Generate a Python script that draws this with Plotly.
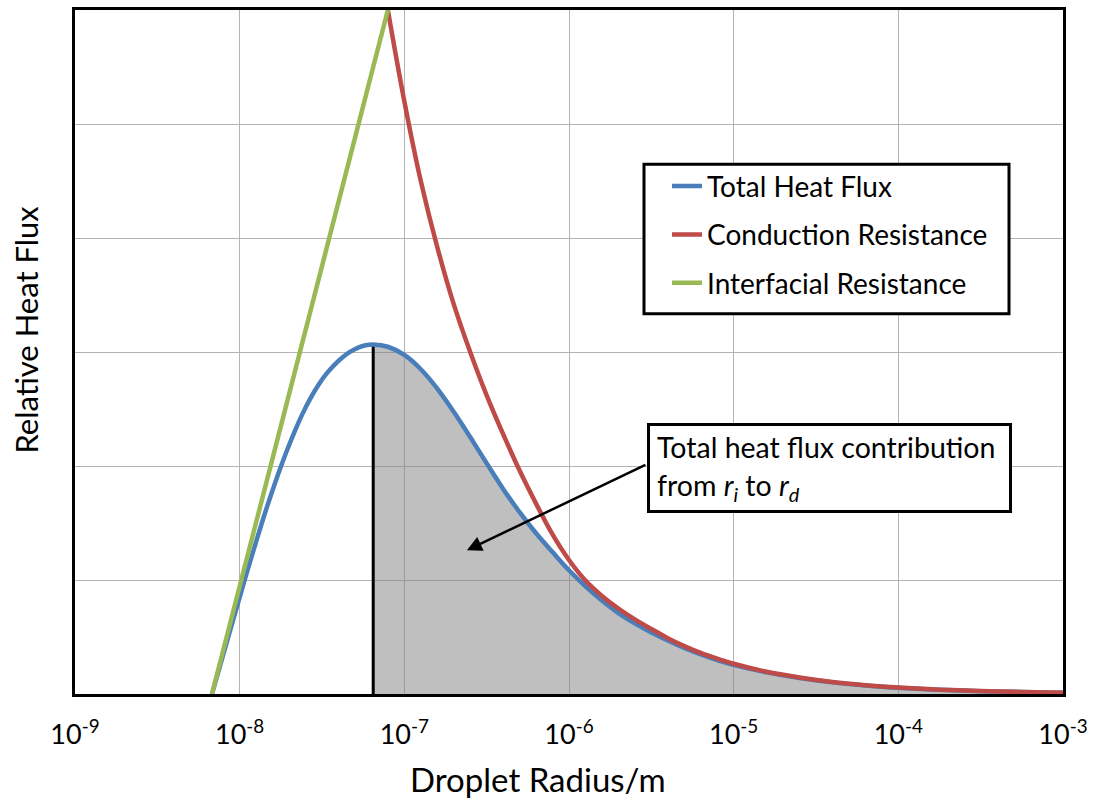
import plotly.graph_objects as go

# ---------------- data ----------------
# droplet radius (m) and relative heat flux (arbitrary units, 0..6 = axis frame)
interfacial_r = [6.79e-9, 1.023e-8, 1.542e-8, 2.323e-8, 3.491e-8, 5.26e-8, 7.943e-8]
interfacial_q = [0, 1, 2, 3, 4, 5, 6]

conduction_r = [7.943e-8, 1e-7, 1.259e-7, 1.585e-7, 1.995e-7, 2.512e-7, 3.162e-7, 3.981e-7,
                5.012e-7, 6.31e-7, 7.943e-7, 1e-6, 1.259e-6, 1.585e-6, 1.995e-6, 2.512e-6,
                3.162e-6, 3.981e-6, 5.012e-6, 6.31e-6, 7.943e-6, 1e-5, 1.585e-5, 2.512e-5,
                3.981e-5, 6.31e-5, 1e-4, 1.778e-4, 3.162e-4, 5.623e-4, 1e-3]
conduction_q = [6.0, 5.2, 4.5, 3.92, 3.42, 3.0, 2.62, 2.28, 1.96, 1.67, 1.40, 1.175,
                0.995, 0.86, 0.75, 0.655, 0.57, 0.49, 0.42, 0.36, 0.31, 0.265, 0.195,
                0.145, 0.105, 0.077, 0.056, 0.038, 0.026, 0.018, 0.012]

total_r = [6.79e-9, 7.59e-9, 8.51e-9, 9.55e-9, 1.076e-8, 1.202e-8, 1.38e-8, 1.549e-8,
           1.758e-8, 1.95e-8, 2.188e-8, 2.427e-8, 2.673e-8, 3.02e-8, 3.388e-8, 3.802e-8,
           4.236e-8, 4.677e-8, 5.248e-8, 5.821e-8, 6.471e-8, 7.943e-8, 1e-7, 1.259e-7,
           1.585e-7, 1.995e-7, 2.512e-7, 3.162e-7, 3.981e-7, 5.012e-7, 6.31e-7, 7.943e-7,
           1e-6, 1.259e-6, 1.585e-6, 1.995e-6, 2.512e-6, 3.162e-6, 3.981e-6, 5.012e-6,
           6.31e-6, 7.943e-6, 1e-5, 1.585e-5, 2.512e-5, 3.981e-5, 6.31e-5, 1e-4,
           1.778e-4, 3.162e-4, 5.623e-4, 1e-3]
total_q = [0, 0.244, 0.497, 0.748, 1.007, 1.241, 1.524, 1.746, 1.974, 2.147, 2.324,
           2.468, 2.587, 2.715, 2.814, 2.894, 2.956, 3.001, 3.039, 3.059, 3.066, 3.046,
           2.974, 2.849, 2.679, 2.476, 2.254, 2.024, 1.799, 1.595, 1.41, 1.245, 1.085,
           0.945, 0.82, 0.71, 0.62, 0.54, 0.47, 0.405, 0.348, 0.298, 0.255, 0.19, 0.14,
           0.102, 0.075, 0.054, 0.037, 0.025, 0.017, 0.011]

peak_r = 6.471e-8
peak_q = 3.066

tick_vals = [1e-9, 1e-8, 1e-7, 1e-6, 1e-5, 1e-4, 1e-3]
tick_text = ["10<sup>-9</sup>", "10<sup>-8</sup>", "10<sup>-7</sup>", "10<sup>-6</sup>",
             "10<sup>-5</sup>", "10<sup>-4</sup>", "10<sup>-3</sup>"]

# ---------------- figure ----------------
FONT = "Lato"
BLUE, RED, GREEN = "#4a7ebb", "#be4b48", "#98b954"

fill_r = [r for r in total_r if r >= peak_r]
fill_q = [q for r, q in zip(total_r, total_q) if r >= peak_r]

fig = go.Figure()
fig.add_trace(go.Scatter(x=fill_r, y=fill_q, mode="lines", line=dict(width=0, shape="spline"),
                         fill="tozeroy", fillcolor="rgba(128,128,128,0.5)",
                         showlegend=False, hoverinfo="skip"))
fig.add_trace(go.Scatter(x=[peak_r, peak_r], y=[0, peak_q], mode="lines",
                         line=dict(color="black", width=3), showlegend=False))
fig.add_trace(go.Scatter(x=total_r, y=total_q, mode="lines", name="Total Heat Flux",
                         legendgroup="a", line=dict(color=BLUE, width=4.5, shape="spline")))
fig.add_trace(go.Scatter(x=conduction_r, y=conduction_q, mode="lines", name="Conduction Resistance",
                         legendgroup="b", line=dict(color=RED, width=4.5, shape="spline")))
fig.add_trace(go.Scatter(x=interfacial_r, y=interfacial_q, mode="lines", name="Interfacial Resistance",
                         legendgroup="c", line=dict(color=GREEN, width=4.5)))

W, H = 1107, 802
L, R, T, B = 75, 44, 7, 108
pw, ph = W - L - R, H - T - B

def px(xpix):
    return (xpix - L) / pw

def py(ypix):
    return (H - B - ypix) / ph

fig.update_layout(
    width=W, height=H,
    margin=dict(l=L, r=R, t=T, b=B),
    paper_bgcolor="white", plot_bgcolor="white",
    font=dict(family=FONT, color="black"),
    legend=dict(x=px(667), y=py(159), xanchor="left", yanchor="top",
                bgcolor="rgba(0,0,0,0)", borderwidth=0,
                font=dict(family=FONT, size=28, color="black"),
                tracegroupgap=9),
    xaxis=dict(type="log", range=[-9, -3], tickvals=tick_vals, ticktext=tick_text,
               showgrid=True, gridcolor="#b4b4b4", gridwidth=1,
               showline=True, linecolor="black", linewidth=3, mirror=True,
               zeroline=False, ticks="", ticklabelstandoff=15,
               tickfont=dict(family=FONT, size=27, color="black")),
    yaxis=dict(range=[0, 6], dtick=1, showgrid=True, gridcolor="#b4b4b4", gridwidth=1,
               showline=True, linecolor="black", linewidth=3, mirror=True,
               zeroline=False, ticks="", showticklabels=False),
    shapes=[dict(type="rect", xref="paper", yref="paper",
                 x0=px(644), x1=px(1009), y0=py(312), y1=py(162),
                 line=dict(color="black", width=3), fillcolor="white", layer="above")],
    annotations=[
        dict(text="Droplet Radius/m", xref="paper", yref="paper", x=px(538), y=py(779),
             xanchor="center", yanchor="middle", showarrow=False,
             font=dict(family=FONT, size=33, color="black")),
        dict(text="Relative Heat Flux", xref="paper", yref="paper", x=px(26), y=py(328),
             xanchor="center", yanchor="middle", showarrow=False, textangle=-90,
             font=dict(family=FONT, size=31, color="black")),
        dict(text="Total heat flux contribution<br>from <i>r<sub>i</sub></i> to <i>r<sub>d</sub></i>",
             xref="paper", yref="paper", x=px(647), y=py(422), xanchor="left", yanchor="top",
             align="left", valign="middle", width=345, height=70,
             showarrow=False, bgcolor="white", bordercolor="black",
             borderwidth=3, borderpad=7,
             font=dict(family=FONT, size=28.5, color="black")),
        dict(text="", x=-6.62, y=1.26, xref="x", yref="y", ax=-5.527, ay=2.017,
             axref="x", ayref="y", showarrow=True, arrowhead=2, arrowsize=1.2,
             arrowwidth=2.5, arrowcolor="black"),
    ],
)

fig.write_html("out.html")
